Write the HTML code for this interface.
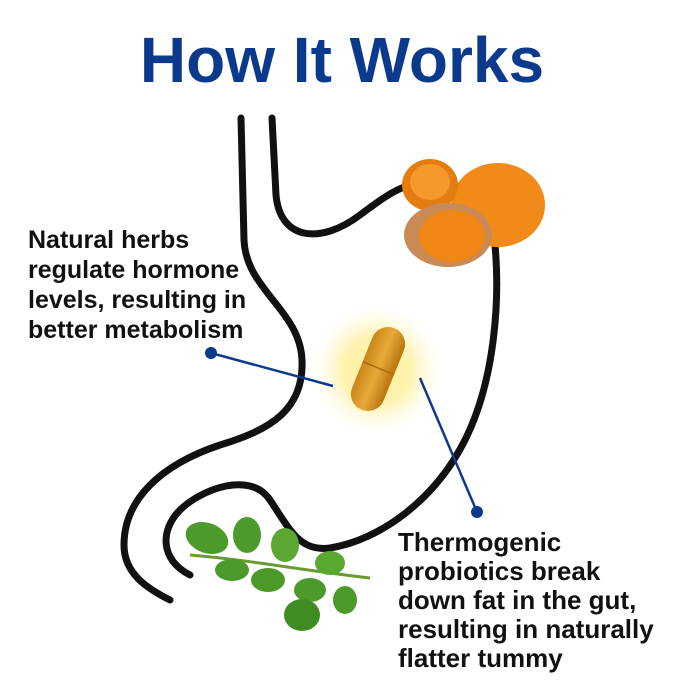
<!DOCTYPE html>
<html><head><meta charset="utf-8"><style>
html,body{margin:0;padding:0;background:#fff}
#c{position:relative;width:684px;height:684px;overflow:hidden;font-family:"Liberation Sans",Arial,sans-serif}
h1{position:absolute;left:0;width:684px;top:23px;margin:0;text-align:center;font-size:64px;font-weight:bold;color:#0b3a8d}
.t{position:absolute;font-weight:bold;color:#111;font-size:26px;line-height:30px}
</style></head><body><div id="c">
<h1>How It Works</h1>
<svg width="684" height="684" style="position:absolute;left:0;top:0">
<defs>
<radialGradient id="g" cx="50%" cy="50%" r="50%"><stop offset="0" stop-color="#fff3a0" stop-opacity="0.95"/><stop offset="0.5" stop-color="#ffe766" stop-opacity="0.5"/><stop offset="1" stop-color="#fff" stop-opacity="0"/></radialGradient>
<linearGradient id="cap" x1="0" y1="0" x2="1" y2="0"><stop offset="0" stop-color="#c9861a"/><stop offset="0.5" stop-color="#e9a93a"/><stop offset="1" stop-color="#b87410"/></linearGradient>
</defs>
<g fill="none" stroke="#111" stroke-width="7" stroke-linecap="round">
<path d="M241 118 L244 240 C246 290 300 310 302 360 C304 410 270 430 220 445 C160 465 124 500 124 545 C124 575 150 590 170 600"/>
<path d="M272 118 L276 195 C280 240 320 245 360 215 C380 200 400 185 415 185"/>
<path d="M495 245 C500 300 495 380 465 440 C435 500 380 540 330 548 C300 552 290 530 270 500 C250 470 200 490 180 510 C160 530 160 560 190 575"/>
</g>
<ellipse cx="377" cy="370" rx="70" ry="70" fill="url(#g)"/>
<g transform="rotate(22 378 369)"><rect x="361" y="325" width="34" height="88" rx="17" fill="url(#cap)"/><line x1="361" y1="368" x2="395" y2="368" stroke="#a86a10" stroke-width="1.5"/></g>
<g stroke="#0b3a8d" stroke-width="2.5"><line x1="211" y1="353" x2="333" y2="386"/><line x1="420" y1="378" x2="477" y2="512"/></g>
<circle cx="211" cy="353" r="6" fill="#0b3a8d"/><circle cx="477" cy="512" r="6" fill="#0b3a8d"/>
<g>
<ellipse cx="498" cy="205" rx="47" ry="42" fill="#f28a1a"/>
<ellipse cx="430" cy="185" rx="28" ry="26" fill="#e47d10"/>
<ellipse cx="430" cy="182" rx="20" ry="18" fill="#f59a2a"/>
<ellipse cx="448" cy="235" rx="44" ry="32" fill="#c98a55"/>
<ellipse cx="452" cy="236" rx="33" ry="26" fill="#f08614"/>
</g>
<g fill="#4c9a2a">
<path d="M190 555 C250 560 300 570 370 578" stroke="#6a9a30" stroke-width="3" fill="none"/>
<ellipse cx="207" cy="538" rx="22" ry="15" transform="rotate(20 207 538)"/>
<ellipse cx="247" cy="535" rx="14" ry="18"/>
<ellipse cx="232" cy="570" rx="17" ry="11"/>
<ellipse cx="285" cy="545" rx="14" ry="17" fill="#5aa832"/>
<ellipse cx="268" cy="580" rx="17" ry="12"/>
<ellipse cx="330" cy="563" rx="15" ry="12" fill="#5aa832"/>
<ellipse cx="310" cy="590" rx="16" ry="12"/>
<ellipse cx="302" cy="615" rx="18" ry="16" fill="#3f8c22"/>
<ellipse cx="345" cy="600" rx="12" ry="14"/>
</g>
</svg>
<div class="t" style="left:28px;top:225px;font-size:25px">Natural herbs<br>regulate hormone<br>levels, resulting in<br>better metabolism</div>
<div class="t" style="left:398px;top:528px;line-height:29px">Thermogenic<br>probiotics break<br>down fat in the gut,<br>resulting in naturally<br>flatter tummy</div>
</div></body></html>
